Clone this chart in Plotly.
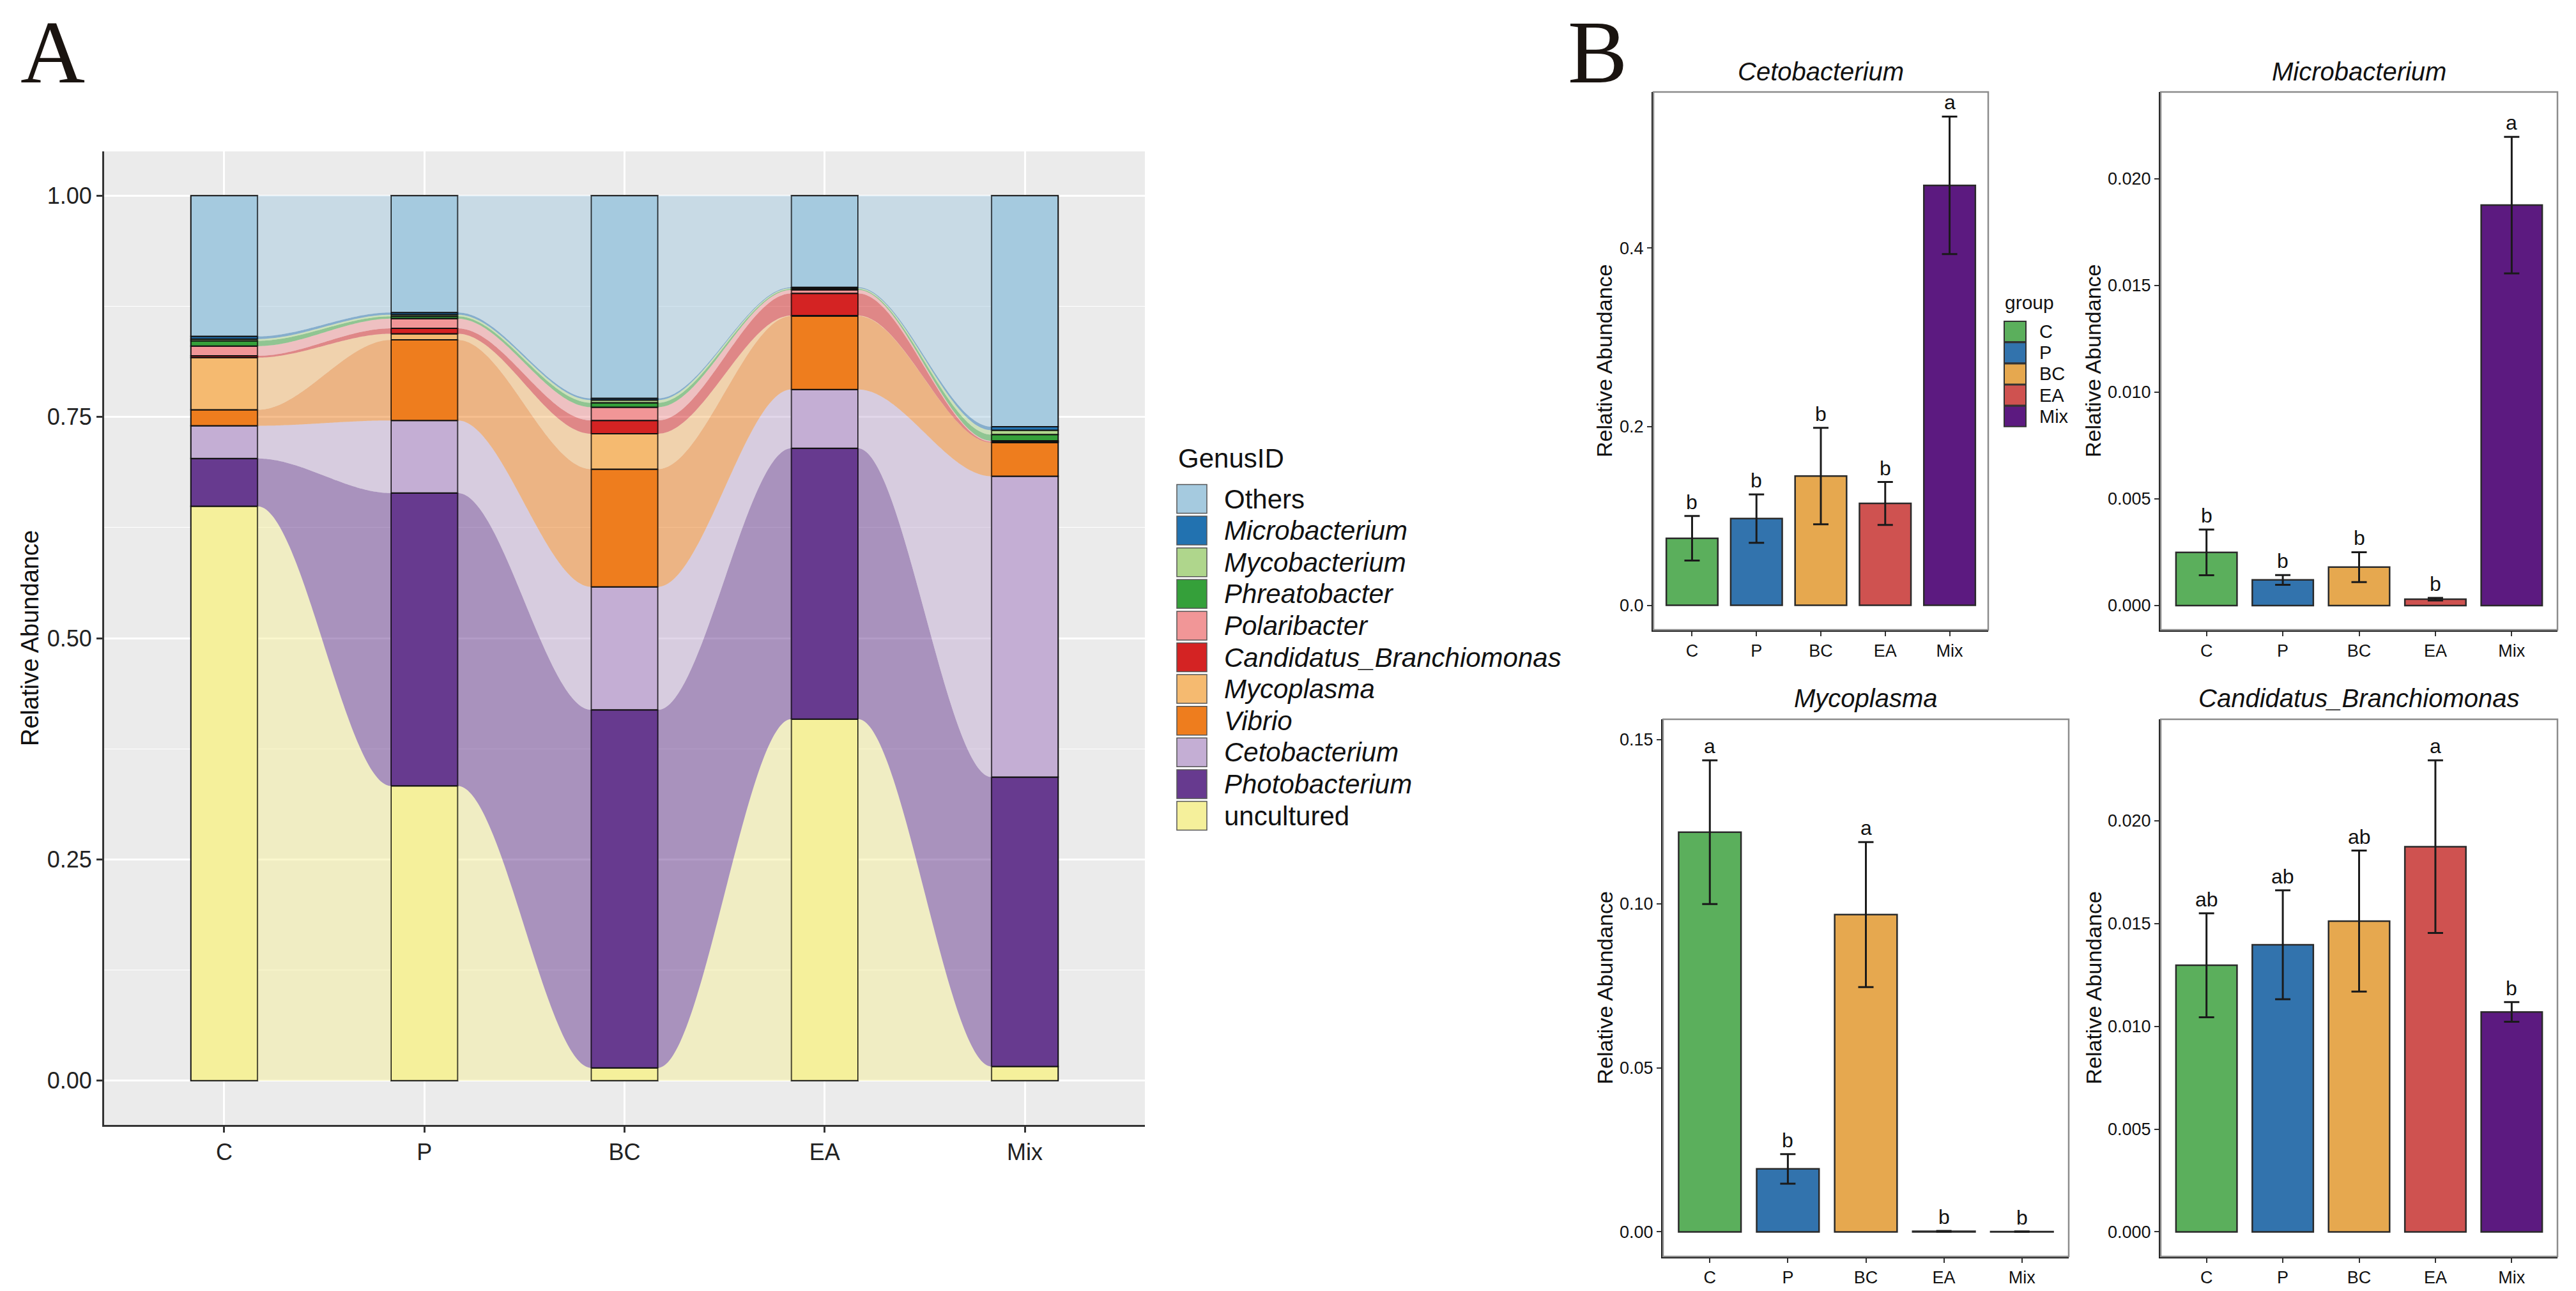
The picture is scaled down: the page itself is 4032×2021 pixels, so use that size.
import numpy as np
import plotly.graph_objects as go

W, H = 4032, 2021

groups = ["C", "P", "BC", "EA", "Mix"]

# ---------------- Panel A data (stack order bottom -> top) ----------------
uncultured     = [0.649, 0.333, 0.0145, 0.4085, 0.016]
photobacterium = [0.054, 0.331, 0.4045, 0.306, 0.327]
cetobacterium  = [0.037, 0.082, 0.139, 0.0665, 0.340]
vibrio         = [0.018, 0.091, 0.133, 0.083, 0.038]
mycoplasma     = [0.059, 0.007, 0.040, 0.0005, 0.0]
candidatus     = [0.002, 0.006, 0.015, 0.025, 0.001]
polaribacter   = [0.011, 0.011, 0.015, 0.004, 0.001]
phreatobacter  = [0.006, 0.0026, 0.005, 0.001, 0.007]
mycobacterium  = [0.002, 0.0019, 0.003, 0.001, 0.005]
microbacterium = [0.003, 0.0025, 0.002, 0.001, 0.004]
others         = [0.159, 0.132, 0.229, 0.1035, 0.261]

genus_names = ["uncultured", "Photobacterium", "Cetobacterium", "Vibrio", "Mycoplasma",
               "Candidatus_Branchiomonas", "Polaribacter", "Phreatobacter",
               "Mycobacterium", "Microbacterium", "Others"]
genus_values = [uncultured, photobacterium, cetobacterium, vibrio, mycoplasma,
                candidatus, polaribacter, phreatobacter, mycobacterium,
                microbacterium, others]
genus_colors = ["#F5F09B", "#673A8F", "#C4AED4", "#EE7D1E", "#F5BA70",
                "#D42323", "#F19697", "#35A03A", "#AFD68C", "#2272B0", "#A5CADF"]
genus_italic = [False, True, True, True, True, True, True, True, True, True, False]

# ---------------- Panel B data ----------------
ceto_mean = [0.075, 0.097, 0.1446, 0.114, 0.470]
ceto_sd = [0.025, 0.027, 0.054, 0.024, 0.077]
ceto_letters = ["b", "b", "b", "b", "a"]

micro_mean = [0.00249, 0.0012, 0.0018, 0.0003, 0.01877]
micro_sd = [0.00107, 0.00023, 0.0007, 0.00006, 0.0032]
micro_letters = ["b", "b", "b", "b", "a"]

myco_mean = [0.1218, 0.0192, 0.0967, 0.0002, 0.0001]
myco_sd = [0.0219, 0.0045, 0.0221, 0.0001, 0.00005]
myco_letters = ["a", "b", "a", "b", "b"]

cand_mean = [0.01297, 0.01397, 0.01512, 0.01874, 0.0107]
cand_sd = [0.00253, 0.00265, 0.00343, 0.0042, 0.00048]
cand_letters = ["ab", "ab", "ab", "a", "b"]

group_colors = ["#5BAF5C", "#3273AD", "#E6A84F", "#CF5250", "#5C1A80"]

FONT = "Liberation Sans, Arial, sans-serif"


def px(x):
    return x / W


def py(y):
    return 1 - y / H


def rgba(hex_color, a):
    h = hex_color.lstrip("#")
    r, g, b = int(h[0:2], 16), int(h[2:4], 16), int(h[4:6], 16)
    return f"rgba({r},{g},{b},{a})"


fig = go.Figure()

# ---------------- Panel A: alluvial flows + stacked bars ----------------
xpos = np.arange(len(groups), dtype=float)
bar_w = 1 / 3
vals = np.array(genus_values, dtype=float)
bottoms = np.vstack([np.zeros(len(groups)), np.cumsum(vals, axis=0)[:-1]])
tops = bottoms + vals

t = np.linspace(0, 1, 80)
s = 3 * t ** 2 - 2 * t ** 3
for k in range(len(genus_names)):
    for i in range(len(groups) - 1):
        if vals[k, i] <= 0 and vals[k, i + 1] <= 0:
            continue
        x0 = xpos[i] + bar_w / 2
        x1 = xpos[i + 1] - bar_w / 2
        xs = x0 + (x1 - x0) * t
        top = tops[k, i] + (tops[k, i + 1] - tops[k, i]) * s
        bot = bottoms[k, i] + (bottoms[k, i + 1] - bottoms[k, i]) * s
        fig.add_trace(go.Scatter(
            x=np.concatenate([xs, xs[::-1]]),
            y=np.concatenate([top, bot[::-1]]),
            fill="toself", fillcolor=rgba(genus_colors[k], 0.5),
            mode="none", hoverinfo="skip", showlegend=False,
            xaxis="x", yaxis="y"))

for k in range(len(genus_names)):
    fig.add_trace(go.Bar(
        x=xpos, y=vals[k], base=bottoms[k], width=bar_w,
        marker=dict(color=genus_colors[k], line=dict(color="#111111", width=2)),
        name=genus_names[k], showlegend=False, xaxis="x", yaxis="y"))

# ---------------- Panel B: bar charts with error bars ----------------
panels = [
    ("x2", "y2", ceto_mean, ceto_sd, ceto_letters, "Cetobacterium"),
    ("x3", "y3", micro_mean, micro_sd, micro_letters, "Microbacterium"),
    ("x4", "y4", myco_mean, myco_sd, myco_letters, "Mycoplasma"),
    ("x5", "y5", cand_mean, cand_sd, cand_letters, "Candidatus_Branchiomonas"),
]
annotations = []
for xa, ya, mean, sd, letters, title in panels:
    fig.add_trace(go.Bar(
        x=groups, y=mean, width=0.8,
        marker=dict(color=group_colors, line=dict(color="#2a2a2a", width=2.5)),
        error_y=dict(type="data", array=sd, color="#1a1a1a", thickness=3, width=12),
        showlegend=False, xaxis=xa, yaxis=ya))
    for g, m, e, lab in zip(groups, mean, sd, letters):
        annotations.append(dict(
            x=g, y=m + e, xref=xa, yref=ya, text=lab, showarrow=False,
            yanchor="bottom", yshift=2, font=dict(family=FONT, size=32, color="#111111")))

# ---------------- Layout ----------------
A_dom_x = [px(163), px(1792)]
A_dom_y = [py(1761), py(237)]

dom = {
    "2": ([px(2588), px(3112)], [py(986), py(144)]),
    "3": ([px(3382), px(4003)], [py(986), py(144)]),
    "4": ([px(2603), px(3238)], [py(1967), py(1126)]),
    "5": ([px(3382), px(4003)], [py(1967), py(1126)]),
}
yr = {
    "2": dict(range=[-0.0275, 0.5745], dtick=0.2, tickformat=".1f"),
    "3": dict(range=[-0.00114, 0.02407], dtick=0.005, tickformat=".3f"),
    "4": dict(range=[-0.0075, 0.1562], dtick=0.05, tickformat=".2f"),
    "5": dict(range=[-0.0012, 0.02494], dtick=0.005, tickformat=".3f"),
}

layout = dict(
    width=W, height=H, margin=dict(l=0, r=0, t=0, b=0),
    paper_bgcolor="white", plot_bgcolor="white",
    barmode="overlay", showlegend=False,
    font=dict(family=FONT, color="#111111"),
    xaxis=dict(domain=A_dom_x, range=[-0.6, 4.6], tickvals=list(xpos), ticktext=groups,
               showgrid=True, gridcolor="white", gridwidth=2.5, zeroline=False,
               showline=True, linecolor="#333333", linewidth=3,
               ticks="outside", ticklen=9, tickwidth=2.5, tickcolor="#333333",
               tickfont=dict(size=36, color="#222222", family=FONT)),
    yaxis=dict(domain=A_dom_y, range=[-0.05, 1.05], tickvals=[0, 0.25, 0.5, 0.75, 1.0],
               tickformat=".2f", showgrid=True, gridcolor="white", gridwidth=2.5,
               zeroline=False, showline=True, linecolor="#333333", linewidth=3,
               ticks="outside", ticklen=9, tickwidth=2.5, tickcolor="#333333",
               tickfont=dict(size=36, color="#222222", family=FONT),
               minor=dict(tickvals=[0.125, 0.375, 0.625, 0.875], showgrid=True,
                          gridcolor="white", gridwidth=1.2, ticks="")),
)
for n, (dx, dy) in dom.items():
    layout["xaxis" + n] = dict(domain=dx, anchor="y" + n, range=[-0.6, 4.6],
                               type="category", showgrid=False, zeroline=False,
                               showline=True, linecolor="#1a1a1a", linewidth=3,
                               ticks="outside", ticklen=7, tickwidth=2, tickcolor="#333333",
                               tickfont=dict(size=27, color="#111111", family=FONT))
    layout["yaxis" + n] = dict(domain=dy, anchor="x" + n, showgrid=False, zeroline=False,
                               showline=True, linecolor="#1a1a1a", linewidth=3,
                               ticks="outside", ticklen=7, tickwidth=2, tickcolor="#333333",
                               tickfont=dict(size=27, color="#111111", family=FONT),
                               **yr[n])

shapes = []
# panel A background
shapes.append(dict(type="rect", xref="x", yref="y", x0=-0.6, x1=4.6, y0=-0.05, y1=1.05,
                   fillcolor="#EBEBEB", line=dict(width=0), layer="below"))
# panel B borders
for n in dom:
    shapes.append(dict(type="rect", xref=f"x{n} domain", yref=f"y{n} domain",
                       x0=0, x1=1, y0=0, y1=1, line=dict(color="#8c8c8c", width=2.5),
                       fillcolor="rgba(0,0,0,0)", layer="above"))

# Panel A legend (GenusID)
annotations.append(dict(x=px(1842), y=py(717), xref="paper", yref="paper", text="GenusID",
                        showarrow=False, xanchor="left", yanchor="middle",
                        font=dict(family=FONT, size=42, color="#111111")))
order = list(range(len(genus_names)))[::-1]
for j, k in enumerate(order):
    top = 758.5 + 49.6 * j
    shapes.append(dict(type="rect", xref="paper", yref="paper",
                       x0=px(1842), x1=px(1889), y0=py(top + 45), y1=py(top),
                       fillcolor=genus_colors[k], line=dict(color="#555555", width=1.5)))
    label = f"<i>{genus_names[k]}</i>" if genus_italic[k] else genus_names[k]
    annotations.append(dict(x=px(1914), y=py(top + 22.5), xref="paper", yref="paper",
                            text=label, showarrow=False, xanchor="left", yanchor="middle",
                            font=dict(family=FONT, size=42, color="#111111")))

# Panel B legend (group)
annotations.append(dict(x=px(3136), y=py(474), xref="paper", yref="paper", text="group",
                        showarrow=False, xanchor="left", yanchor="middle",
                        font=dict(family=FONT, size=30, color="#111111")))
for i, g in enumerate(groups):
    top = 503 + 33.2 * i
    shapes.append(dict(type="rect", xref="paper", yref="paper",
                       x0=px(3137), x1=px(3171), y0=py(top + 32), y1=py(top),
                       fillcolor=group_colors[i], line=dict(color="#333333", width=2)))
    annotations.append(dict(x=px(3190), y=py(top + 16), xref="paper", yref="paper",
                            text=g, showarrow=False, xanchor="left", yanchor="middle",
                            font=dict(family=FONT, size=29, color="#111111")))

# Titles and axis titles
annotations.append(dict(x=px(47), y=py(999), xref="paper", yref="paper",
                        text="Relative Abundance", textangle=-90, showarrow=False,
                        xanchor="center", yanchor="middle",
                        font=dict(family=FONT, size=38, color="#111111")))
title_pos = {"2": (py(112), px(2511)), "3": (py(112), px(3276)),
             "4": (py(1093), px(2511)), "5": (py(1093), px(3276))}
for (xa, ya, mean, sd, letters, title), n in zip(panels, ["2", "3", "4", "5"]):
    dx, dy = dom[n]
    ty, yx = title_pos[n]
    annotations.append(dict(x=(dx[0] + dx[1]) / 2, y=ty, xref="paper", yref="paper",
                            text=f"<i>{title}</i>", showarrow=False,
                            xanchor="center", yanchor="middle",
                            font=dict(family=FONT, size=40, color="#111111")))
    annotations.append(dict(x=yx, y=(dy[0] + dy[1]) / 2, xref="paper", yref="paper",
                            text="Relative Abundance", textangle=-90, showarrow=False,
                            xanchor="center", yanchor="middle",
                            font=dict(family=FONT, size=34, color="#111111")))

# Panel letters
annotations.append(dict(x=px(82), y=py(2), xref="paper", yref="paper", text="A",
                        showarrow=False, xanchor="center", yanchor="top",
                        font=dict(family="Liberation Serif, Times New Roman, serif",
                                  size=140, color="#1a1410")))
annotations.append(dict(x=px(2500), y=py(2), xref="paper", yref="paper", text="B",
                        showarrow=False, xanchor="center", yanchor="top",
                        font=dict(family="Liberation Serif, Times New Roman, serif",
                                  size=140, color="#1a1410")))

layout["shapes"] = shapes
layout["annotations"] = annotations
fig.update_layout(**layout)

fig.write_html("out.html")
